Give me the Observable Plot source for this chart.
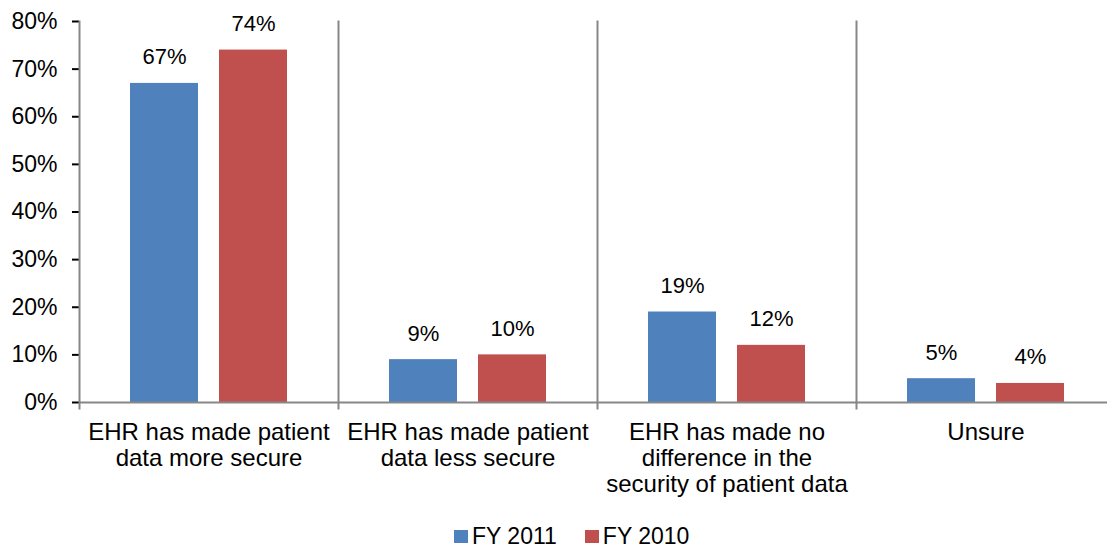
<!DOCTYPE html>
<html>
<head>
<meta charset="utf-8">
<script src="https://cdn.jsdelivr.net/npm/d3@7"></script>
<script src="https://cdn.jsdelivr.net/npm/@observablehq/plot@0.6"></script>
<style>
  html, body { margin: 0; padding: 0; background: #fff; overflow: hidden; }
  #wrap { position: relative; width: 1107px; height: 548px; overflow: hidden; font-family: "Liberation Sans", Arial, sans-serif; }
  #chart svg { display: block; max-width: none !important; width: 1115px; height: 515px; font-family: "Liberation Sans", Arial, sans-serif; }
  #chart [aria-label="y-axis tick"], #chart [aria-label="y-axis"] .tick line { stroke: #878787; stroke-width: 2px; }
  #chart [aria-label="y-axis tick label"], #chart [aria-label="y-axis"] text { font-size: 23px; }
  #legend { position: absolute; left: 454px; top: 525px; display: flex; align-items: center; font-size: 23px; line-height: 22px; color: #000; }
  #legend .sw { width: 14px; height: 13px; display: inline-block; margin-right: 4px; }
  #legend .item { display: flex; align-items: center; margin-right: 28px; }
</style>
</head>
<body>
<div id="wrap">
  <div id="chart"></div>
  <div id="legend"></div>
</div>
<script>
const categories = ["more", "less", "nodiff", "unsure"];
const categoryLabels = [
  "EHR has made patient\ndata more secure",
  "EHR has made patient\ndata less secure",
  "EHR has made no\ndifference in the\nsecurity of patient data",
  "Unsure"
];
const seriesNames = ["FY 2011", "FY 2010"];
const seriesColors = ["#4F81BD", "#C0504D"];
const fy2011 = [67, 9, 19, 5];
const fy2010 = [74, 10, 12, 4];
const yTicks = [0, 10, 20, 30, 40, 50, 60, 70, 80];

const rows = [];
categories.forEach((c, i) => {
  rows.push({category: c, series: seriesNames[0], value: fy2011[i]});
  rows.push({category: c, series: seriesNames[1], value: fy2010[i]});
});

const chart = Plot.plot({
  width: 1115,
  height: 515,
  marginLeft: 79,
  marginRight: 0,
  marginTop: 21,
  marginBottom: 113,
  style: {fontFamily: "Liberation Sans, Arial, sans-serif", fontSize: "22px", color: "#000", background: "#fff"},
  fx: {domain: categories, padding: 0, axis: null},
  x: {domain: seriesNames, paddingInner: 0.236, paddingOuter: 0.573, axis: null},
  y: {domain: [0, 80], ticks: yTicks, tickFormat: d => d + "%", tickSize: 7, tickPadding: 15, label: null},
  color: {domain: seriesNames, range: seriesColors},
  marks: [
    Plot.frame({anchor: "left", stroke: "#878787", strokeWidth: 2, insetBottom: -6}),
    Plot.barY(rows, {fx: "category", x: "series", y: "value", fill: "series"}),
    Plot.ruleY([0], {stroke: "#878787", strokeWidth: 2}),
    Plot.text(rows, {fx: "category", x: "series", y: "value", text: d => d.value + "%", lineAnchor: "bottom", dy: -19, fontSize: 22, fill: "#000"}),
    Plot.text(categories, {fx: d => d, frameAnchor: "bottom", lineAnchor: "top", dy: 19, text: (d, i) => categoryLabels[i], fontSize: 24, lineHeight: 1.09, fill: "#000"})
  ]
});
document.getElementById("chart").appendChild(chart);

const legend = document.getElementById("legend");
seriesNames.forEach((s, i) => {
  const item = document.createElement("div");
  item.className = "item";
  const sw = document.createElement("span");
  sw.className = "sw";
  sw.style.background = seriesColors[i];
  const t = document.createElement("span");
  t.textContent = s;
  item.appendChild(sw);
  item.appendChild(t);
  legend.appendChild(item);
});
</script>
</body>
</html>
